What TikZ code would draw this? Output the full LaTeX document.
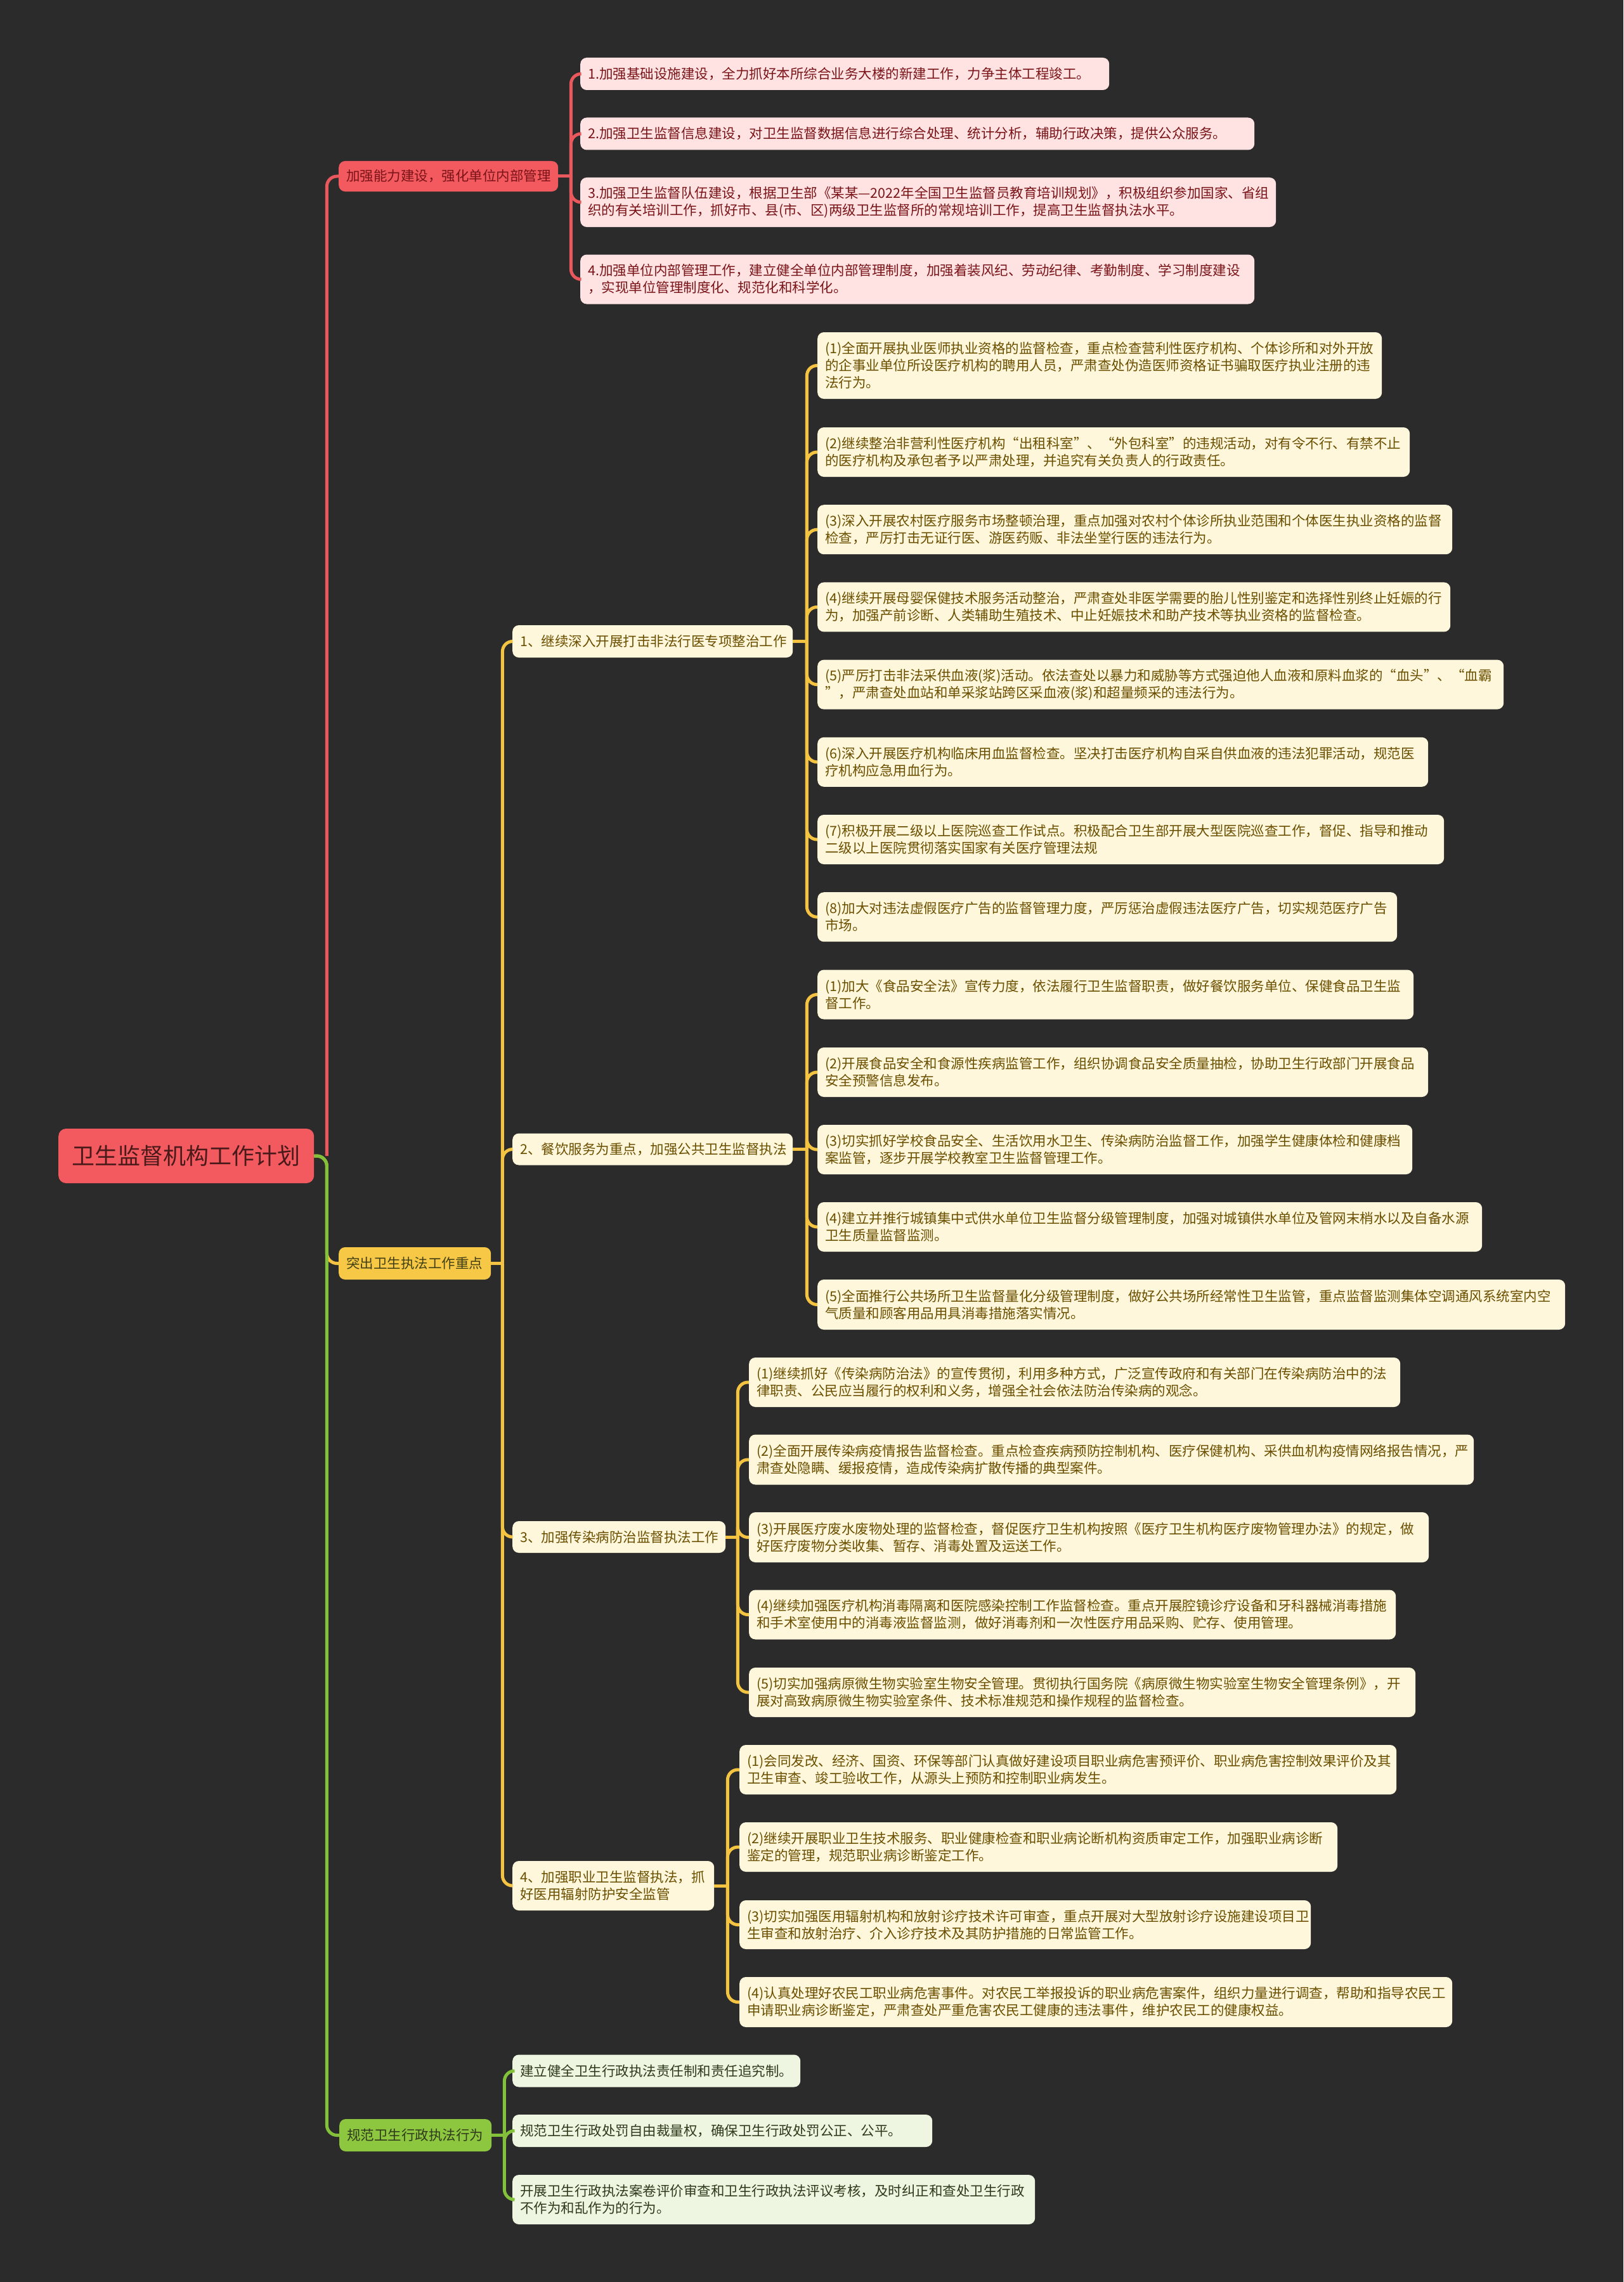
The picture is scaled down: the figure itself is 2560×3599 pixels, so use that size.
\documentclass[tikz,border=0pt]{standalone}
\usepackage{fontspec}
\newfontfamily\cjk{Noto Sans CJK SC}
\definecolor{bg}{HTML}{2B2B2B}
\definecolor{redfill}{HTML}{F25A5F}
\definecolor{redline}{HTML}{E8585C}
\definecolor{yelfill}{HTML}{F7C845}
\definecolor{yelline}{HTML}{F5C342}
\definecolor{grnfill}{HTML}{8DC63F}
\definecolor{grnline}{HTML}{84C13A}
\definecolor{pinkfill}{HTML}{FFE3E3}
\definecolor{creamfill}{HTML}{FFF7DB}
\definecolor{lgrnfill}{HTML}{EEF6E1}
\definecolor{pinktext}{HTML}{7A1418}
\definecolor{creamtext}{HTML}{6B4F00}
\definecolor{grntext}{HTML}{2F3A1C}
\definecolor{roottext}{HTML}{4A1A1A}
\tikzset{
  box/.style={rounded corners=10pt, inner xsep=12pt, inner ysep=0pt, anchor=west, align=left,
    font=\cjk\fontsize{21.5pt}{27pt}\selectfont},
  rootbox/.style={rounded corners=12pt, inner xsep=12pt, inner ysep=0pt, anchor=west, align=center,
    fill=redfill, text=roottext, font=\cjk\fontsize{36pt}{44pt}\selectfont},
  redl1/.style={box, fill=redfill, text=pinktext},
  yell1/.style={box, fill=yelfill, text=grntext!70!creamtext},
  grnl1/.style={box, fill=grnfill, text=grntext},
  pinkbox/.style={box, fill=pinkfill, text=pinktext},
  creambox/.style={box, fill=creamfill, text=creamtext},
  lgrnbox/.style={box, fill=lgrnfill, text=grntext},
  conn/.style={line width=5pt, rounded corners=16pt},
  rconn/.style={conn, draw=redline},
  yconn/.style={conn, draw=yelline},
  gconn/.style={conn, draw=grnline},
}
\newcommand{\bx}[6]{\node[#1, text width=#5pt-24pt, minimum height=#6pt] (#2) at (#3,#4) {#5text};}
\begin{document}
\begin{tikzpicture}[x=1pt,y=-1pt]
\fill[bg] (0,0) rectangle (2560,3599);
\useasboundingbox (0,0) rectangle (2560,3599);

% root and level 1
\node[rootbox, text width=379pt, minimum height=86pt] (root) at (92,1823) {卫生监督机构工作计划};
\node[redl1, text width=322pt, minimum height=48pt] (R) at (534,278) {加强能力建设，强化单位内部管理};
\node[yell1, text width=216pt, minimum height=51pt] (Y) at (534,1992.5) {突出卫生执法工作重点};
\node[grnl1, text width=216pt, minimum height=51pt] (G) at (535,3367.5) {规范卫生行政执法行为};

% red children
\node[pinkbox, text width=810pt, minimum height=51pt] (P1) at (915,116.5) {1.加强基础设施建设，全力抓好本所综合业务大楼的新建工作，力争主体工程竣工。};
\node[pinkbox, text width=1039pt, minimum height=51pt] (P2) at (915,211) {2.加强卫生监督信息建设，对卫生监督数据信息进行综合处理、统计分析，辅助行政决策，提供公众服务。};
\node[pinkbox, text width=1073pt, minimum height=78pt] (P3) at (915,319) {3.加强卫生监督队伍建设，根据卫生部《某某—2022年全国卫生监督员教育培训规划》，积极组织参加国家、省组\\织的有关培训工作，抓好市、县(市、区)两级卫生监督所的常规培训工作，提高卫生监督执法水平。};
\node[pinkbox, text width=1039pt, minimum height=78pt] (P4) at (915,440.5) {4.加强单位内部管理工作，建立健全单位内部管理制度，加强着装风纪、劳动纪律、考勤制度、学习制度建设\\，实现单位管理制度化、规范化和科学化。};

% yellow level 2
\node[creambox, text width=418pt, minimum height=51pt] (S1) at (808,1011.5) {1、继续深入开展打击非法行医专项整治工作};
\node[creambox, text width=418pt, minimum height=50pt] (S2) at (808,1812.5) {2、餐饮服务为重点，加强公共卫生监督执法};
\node[creambox, text width=312pt, minimum height=50pt] (S3) at (808,2424) {3、加强传染病防治监督执法工作};
\node[creambox, text width=294pt, minimum height=78pt] (S4) at (808,2974) {4、加强职业卫生监督执法，抓\\好医用辐射防护安全监管};

% section 1 items
\node[creambox, text width=866pt, minimum height=105pt] (A1) at (1289,576.5) {(1)全面开展执业医师执业资格的监督检查，重点检查营利性医疗机构、个体诊所和对外开放\\的企事业单位所设医疗机构的聘用人员，严肃查处伪造医师资格证书骗取医疗执业注册的违\\法行为。};
\node[creambox, text width=910pt, minimum height=78pt] (A2) at (1289,713) {(2)继续整治非营利性医疗机构“出租科室”、“外包科室”的违规活动，对有令不行、有禁不止\\的医疗机构及承包者予以严肃处理，并追究有关负责人的行政责任。};
\node[creambox, text width=977pt, minimum height=78pt] (A3) at (1289,835.2) {(3)深入开展农村医疗服务市场整顿治理，重点加强对农村个体诊所执业范围和个体医生执业资格的监督\\检查，严厉打击无证行医、游医药贩、非法坐堂行医的违法行为。};
\node[creambox, text width=974pt, minimum height=78pt] (A4) at (1289,957.4) {(4)继续开展母婴保健技术服务活动整治，严肃查处非医学需要的胎儿性别鉴定和选择性别终止妊娠的行\\为，加强产前诊断、人类辅助生殖技术、中止妊娠技术和助产技术等执业资格的监督检查。};
\node[creambox, text width=1058pt, minimum height=78pt] (A5) at (1289,1079.6) {(5)严厉打击非法采供血液(浆)活动。依法查处以暴力和威胁等方式强迫他人血液和原料血浆的“血头”、“血霸\\”，严肃查处血站和单采浆站跨区采血液(浆)和超量频采的违法行为。};
\node[creambox, text width=939pt, minimum height=78pt] (A6) at (1289,1201.8) {(6)深入开展医疗机构临床用血监督检查。坚决打击医疗机构自采自供血液的违法犯罪活动，规范医\\疗机构应急用血行为。};
\node[creambox, text width=964pt, minimum height=78pt] (A7) at (1289,1324) {(7)积极开展二级以上医院巡查工作试点。积极配合卫生部开展大型医院巡查工作，督促、指导和推动\\二级以上医院贯彻落实国家有关医疗管理法规};
\node[creambox, text width=890pt, minimum height=78pt] (A8) at (1289,1446.2) {(8)加大对违法虚假医疗广告的监督管理力度，严厉惩治虚假违法医疗广告，切实规范医疗广告\\市场。};

% section 2 items
\node[creambox, text width=916pt, minimum height=78pt] (B1) at (1289,1568.5) {(1)加大《食品安全法》宣传力度，依法履行卫生监督职责，做好餐饮服务单位、保健食品卫生监\\督工作。};
\node[creambox, text width=939pt, minimum height=78pt] (B2) at (1289,1691) {(2)开展食品安全和食源性疾病监管工作，组织协调食品安全质量抽检，协助卫生行政部门开展食品\\安全预警信息发布。};
\node[creambox, text width=914pt, minimum height=78pt] (B3) at (1289,1813) {(3)切实抓好学校食品安全、生活饮用水卫生、传染病防治监督工作，加强学生健康体检和健康档\\案监管，逐步开展学校教室卫生监督管理工作。};
\node[creambox, text width=1024pt, minimum height=78pt] (B4) at (1289,1935) {(4)建立并推行城镇集中式供水单位卫生监督分级管理制度，加强对城镇供水单位及管网末梢水以及自备水源\\卫生质量监督监测。};
\node[creambox, text width=1155pt, minimum height=79pt] (B5) at (1289,2057.5) {(5)全面推行公共场所卫生监督量化分级管理制度，做好公共场所经常性卫生监管，重点监督监测集体空调通风系统室内空\\气质量和顾客用品用具消毒措施落实情况。};

% section 3 items
\node[creambox, text width=1003pt, minimum height=78pt] (C1) at (1181,2180) {(1)继续抓好《传染病防治法》的宣传贯彻，利用多种方式，广泛宣传政府和有关部门在传染病防治中的法\\律职责、公民应当履行的权利和义务，增强全社会依法防治传染病的观念。};
\node[creambox, text width=1119pt, minimum height=79pt] (C2) at (1181,2302) {(2)全面开展传染病疫情报告监督检查。重点检查疾病预防控制机构、医疗保健机构、采供血机构疫情网络报告情况，严\\肃查处隐瞒、缓报疫情，造成传染病扩散传播的典型案件。};
\node[creambox, text width=1048pt, minimum height=79pt] (C3) at (1181,2424.5) {(3)开展医疗废水废物处理的监督检查，督促医疗卫生机构按照《医疗卫生机构医疗废物管理办法》的规定，做\\好医疗废物分类收集、暂存、消毒处置及运送工作。};
\node[creambox, text width=996pt, minimum height=78pt] (C4) at (1181,2546.5) {(4)继续加强医疗机构消毒隔离和医院感染控制工作监督检查。重点开展腔镜诊疗设备和牙科器械消毒措施\\和手术室使用中的消毒液监督监测，做好消毒剂和一次性医疗用品采购、贮存、使用管理。};
\node[creambox, text width=1027pt, minimum height=78pt] (C5) at (1181,2669) {(5)切实加强病原微生物实验室生物安全管理。贯彻执行国务院《病原微生物实验室生物安全管理条例》，开\\展对高致病原微生物实验室条件、技术标准规范和操作规程的监督检查。};

% section 4 items
\node[creambox, text width=1012pt, minimum height=78pt] (D1) at (1166,2791) {(1)会同发改、经济、国资、环保等部门认真做好建设项目职业病危害预评价、职业病危害控制效果评价及其\\卫生审查、竣工验收工作，从源头上预防和控制职业病发生。};
\node[creambox, text width=919pt, minimum height=78pt] (D2) at (1166,2913) {(2)继续开展职业卫生技术服务、职业健康检查和职业病论断机构资质审定工作，加强职业病诊断\\鉴定的管理，规范职业病诊断鉴定工作。};
\node[creambox, text width=877pt, minimum height=77pt] (D3) at (1166,3035.5) {(3)切实加强医用辐射机构和放射诊疗技术许可审查，重点开展对大型放射诊疗设施建设项目卫\\生审查和放射治疗、介入诊疗技术及其防护措施的日常监管工作。};
\node[creambox, text width=1100pt, minimum height=79pt] (D4) at (1166,3157.5) {(4)认真处理好农民工职业病危害事件。对农民工举报投诉的职业病危害案件，组织力量进行调查，帮助和指导农民工\\申请职业病诊断鉴定，严肃查处严重危害农民工健康的违法事件，维护农民工的健康权益。};

% green items
\node[lgrnbox, text width=430pt, minimum height=51pt] (E1) at (808,3266) {建立健全卫生行政执法责任制和责任追究制。};
\node[lgrnbox, text width=638pt, minimum height=51pt] (E2) at (808,3360.5) {规范卫生行政处罚自由裁量权，确保卫生行政处罚公正、公平。};
\node[lgrnbox, text width=800pt, minimum height=78pt] (E3) at (808,3469) {开展卫生行政执法案卷评价审查和卫生行政执法评议考核，及时纠正和查处卫生行政\\不作为和乱作为的行为。};

% trunk coordinates
\coordinate (rootT) at ([xshift=20pt]root.east);
\coordinate (RT) at ([xshift=20pt]R.east);
\coordinate (YT) at ([xshift=18pt]Y.east);
\coordinate (GT) at ([xshift=20pt]G.east);
\coordinate (S1T) at ([xshift=22pt]S1.east);
\coordinate (S2T) at ([xshift=22pt]S2.east);
\coordinate (S3T) at ([xshift=19pt]S3.east);
\coordinate (S4T) at ([xshift=21pt]S4.east);

% root connectors
\draw[yconn] (root.east) -- (rootT) |- (Y.west);
\draw[rconn] (rootT) |- (R.west);
\draw[gconn] (root.east) -- (rootT) |- (G.west);

% red branch
\draw[rconn] (R.east) -- (RT);
\foreach \c in {P1,P2,P3,P4} \draw[rconn] (RT) |- (\c.west);

% yellow branch
\draw[yconn] (Y.east) -- (YT);
\foreach \c in {S1,S2,S3,S4} \draw[yconn] (YT) |- (\c.west);
\draw[yconn] (S1.east) -- (S1T);
\foreach \c in {A1,A2,A3,A4,A5,A6,A7,A8} \draw[yconn] (S1T) |- (\c.west);
\draw[yconn] (S2.east) -- (S2T);
\foreach \c in {B1,B2,B3,B4,B5} \draw[yconn] (S2T) |- (\c.west);
\draw[yconn] (S3.east) -- (S3T);
\foreach \c in {C1,C2,C3,C4,C5} \draw[yconn] (S3T) |- (\c.west);
\draw[yconn] (S4.east) -- (S4T);
\foreach \c in {D1,D2,D3,D4} \draw[yconn] (S4T) |- (\c.west);

% green branch
\draw[gconn] (G.east) -- (GT);
\foreach \c in {E1,E2,E3} \draw[gconn] (GT) |- (\c.west);
\end{tikzpicture}
\end{document}
